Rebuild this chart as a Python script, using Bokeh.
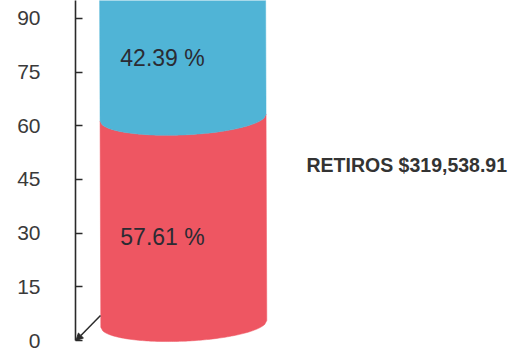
import numpy as np
from bokeh.plotting import figure
from bokeh.models import Range1d, LinearAxis, FixedTicker, NormalHead, Arrow
from bokeh.core.properties import value
from bokeh.embed import file_html
from bokeh.resources import INLINE

# data
segments = ["RETIROS", "DEPOSITOS"]
percents = [57.61, 42.39]
labels = ["57.61 %", "42.39 %"]
colors = ["#EE5662", "#50B4D6"]
ticks = [0, 15, 30, 45, 60, 75, 90]
side_note = "RETIROS $319,538.91"

W, H = 511, 349
PX = 3.58         # pixels per axis unit
ZERO = 340        # pixel row of the axis zero
AXIS_X = 75
p = figure(width=W, height=H, output_backend="svg", toolbar_location=None,
           x_range=Range1d(AXIS_X, W), y_range=Range1d(-(H - ZERO) / PX, ZERO / PX),
           x_axis_type=None, y_axis_type=None,
           min_border_left=AXIS_X, min_border_right=0, min_border_top=0, min_border_bottom=0,
           outline_line_color=None, background_fill_color="white", border_fill_color="white")
p.xgrid.visible = False
p.ygrid.visible = False

yaxis = LinearAxis(ticker=FixedTicker(ticks=ticks), bounds=(0, 100))
yaxis.axis_line_color = "#2a2a2a"
yaxis.axis_line_width = 1.6
yaxis.major_tick_line_color = "#2a2a2a"
yaxis.major_tick_line_width = 1.5
yaxis.major_tick_in = 7
yaxis.major_tick_out = 0
yaxis.minor_tick_line_color = None
yaxis.major_label_standoff = 35
yaxis.major_label_text_font = "Liberation Sans"
yaxis.major_label_text_font_size = "21px"
yaxis.major_label_text_color = "#3a3a3a"
p.add_layout(yaxis, "left")

CX, HW = 182.0, 83.0


def arc(base):
    t = np.linspace(-1, 1, 81)
    x = CX + HW * t + 1.3 * (1 - base / 100)
    y = base - 0.2 + 4.85 + 0.95 * t - 4.85 * np.sqrt(1 - t ** 2)
    return x, y


bottom = 0.0
for pct, col, lab in zip(percents, colors, labels):
    x0, y0 = arc(bottom)
    x1, y1 = arc(bottom + pct)
    xs = np.concatenate([x0, x1[::-1]])
    ys = np.concatenate([y0, y1[::-1]])
    p.patch(xs, ys, fill_color=col, line_color=col, line_width=0.5)
    p.text([162], [bottom + pct / 2], text=[lab], text_align="center", text_baseline="middle",
           text_font=value("Liberation Sans"), text_font_size="23px", text_color="#2b2b33")
    bottom += pct

p.add_layout(Arrow(end=NormalHead(size=7, fill_color="#2a2a2a", line_color="#2a2a2a"),
                   x_start=100, y_start=25 / PX, x_end=AXIS_X + 0.5, y_end=0,
                   line_color="#2a2a2a", line_width=1.5))

p.text([306], [(ZERO - 164) / PX], text=[side_note], text_align="left", text_baseline="middle",
       text_font=value("Liberation Sans"), text_font_style="bold", text_font_size="19.5px",
       text_color="#333333")

open("out.html", "w").write(file_html(p, INLINE))
